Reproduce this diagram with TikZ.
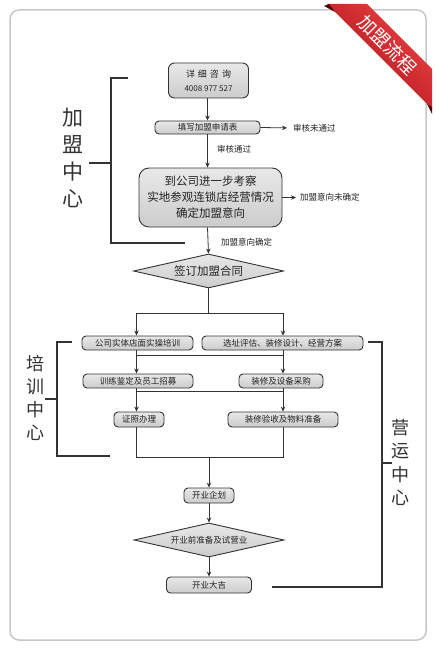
\documentclass[tikz,border=0pt]{standalone}
\usepackage{fontspec}
\setmainfont{Noto Sans CJK SC}
\usetikzlibrary{arrows.meta,shapes.geometric}
\definecolor{ln}{HTML}{333333}
\definecolor{frm}{HTML}{C8C8C8}
\definecolor{bxtop}{HTML}{E8E8E8}
\definecolor{bxbot}{HTML}{CCCCCC}
\definecolor{rib1}{HTML}{EC4346}
\definecolor{rib2}{HTML}{A50C12}
\definecolor{rib3}{HTML}{4A0A0C}
\definecolor{txt}{HTML}{222222}
\tikzset{
  box/.style={draw=ln, line width=0.9pt, rounded corners=4pt, top color=bxtop, bottom color=bxbot,
    inner sep=0pt, align=center, text=txt, font=\fontsize{8.5}{10}\selectfont},
  dia/.style={diamond, draw=ln, line width=0.9pt, top color=bxtop, bottom color=bxbot, aspect=4.41,
    inner sep=0pt, minimum width=150pt, minimum height=34pt, text=txt},
  lbl/.style={inner sep=0pt, text=txt, font=\fontsize{8.5}{10}\selectfont},
  vlab/.style={inner sep=0pt, align=center, text=ln},
  conn/.style={draw=ln, line width=0.8pt},
  arr/.style={draw=ln, line width=0.8pt, -{Stealth[length=5pt,width=4.5pt]}},
  brk/.style={draw=ln, line width=1.2pt}
}
\begin{document}
\begin{tikzpicture}[x=1pt,y=-1pt]
\useasboundingbox (0,0) rectangle (436,650);
\fill[white] (0,0) rectangle (436,650);
% frame
\draw[frm, line width=1.5pt, rounded corners=9pt] (10,10) rectangle (426,640);
% ribbon
\shade[top color=rib1, bottom color=rib2, shading angle=-45] (327,4) -- (367,4) -- (432,69) -- (432,109) -- cycle;
\fill[rib3] (324,6) -- (329,4) -- (335,12) -- cycle;
\fill[rib3] (427,104) -- (432,107) -- (432,114) -- cycle;
\node[rotate=-45, inner sep=0pt, text=white, font=\fontsize{18.5}{18.5}\selectfont] (rt) at (387.5,45) {加盟流程};

% main flow
\node[box, rounded corners=6pt, minimum width=80pt, minimum height=35pt] (zx) at (208.5,80.5)
  {\fontsize{9}{10}\selectfont 详\hspace{3pt}细\hspace{3pt}咨\hspace{3pt}询\\[4pt]{\fontsize{8}{10}\selectfont 4008 977 527}};
\node[box, minimum width=105pt, minimum height=13pt] (sq) at (207.5,127.5) {填写加盟申请表};
\node[box, rounded corners=10pt, minimum width=143pt, minimum height=59pt, font=\fontsize{11.5}{16}\selectfont] (kc) at (210.5,197.5)
  {到公司进一步考察\\实地参观连锁店经营情况\\确定加盟意向};
\node[dia, font=\fontsize{11.5}{13}\selectfont] (ht) at (208.5,271) {签订加盟合同};

\node[box, minimum width=111pt, minimum height=14pt] (b1) at (137.5,343) {公司实体店面实操培训};
\node[box, minimum width=161pt, minimum height=14pt] (b2) at (282.5,343) {选址评估、装修设计、经营方案};
\node[box, minimum width=110pt, minimum height=14pt] (b3) at (138,381) {训练鉴定及员工招募};
\node[box, minimum width=84pt, minimum height=14pt] (b4) at (281,381) {装修及设备采购};
\node[box, minimum width=50pt, minimum height=15pt] (b5) at (139,419.5) {证照办理};
\node[box, minimum width=110pt, minimum height=15pt] (b6) at (283,419.5) {装修验收及物料准备};
\node[box, minimum width=50pt, minimum height=15pt] (b7) at (209,495.5) {开业企划};
\node[dia, font=\fontsize{8.5}{10}\selectfont] (d2) at (209,540) {开业前准备及试营业};
\node[box, minimum width=85pt, minimum height=16pt] (b8) at (209,585) {开业大吉};

% side labels
\node[lbl, anchor=west] (l1) at (293,128) {审核未通过};
\node[lbl, anchor=west] (l2) at (217,149) {审核通过};
\node[lbl, anchor=west] (l3) at (300,197.5) {加盟意向未确定};
\node[lbl, anchor=west] (l4) at (221,242) {加盟意向确定};

% connectors top
\draw[arr] (zx.south -| sq.south) -- (sq.north);
\draw[arr] (sq.south) -- (kc.north -| sq.south);
\draw[arr] (kc.south -| sq.south) -- (ht.north);
\draw[arr, shorten >=6pt] (sq.east) -- (l1.west);
\draw[arr, shorten >=4pt] (kc.east) -- (l3.west);

% column coordinates
\coordinate (cL) at (136.5,0);
\coordinate (cR) at (283,0);
\coordinate (j1) at (208.5,313);
\coordinate (j2) at (208.5,355);
\coordinate (j3) at (208.5,391);
\coordinate (j4) at (209,457);

\draw[conn] (ht.south) -- (j1);
\draw[arr] (j1) -| (b1.north -| cL);
\draw[arr] (j1) -| (b2.north -| cR);

\draw[conn] (b1.south -| cL) -- (j2 -| cL) -- (j2 -| cR) -- (b2.south -| cR);
\draw[arr] (j2 -| cL) -- (b3.north -| cL);
\draw[arr] (j2 -| cR) -- (b4.north -| cR);

\draw[conn] (b3.south -| cL) -- (j3 -| cL) -- (j3 -| cR) -- (b4.south -| cR);
\draw[arr] (j3 -| cL) -- (b5.north -| cL);
\draw[arr] (j3 -| cR) -- (b6.north -| cR);

\draw[conn] (b5.south -| cL) -- (j4 -| cL) -- (j4 -| cR) -- (b6.south -| cR);
\draw[arr] (j4) -- (b7.north);
\draw[arr] (b7.south) -- (d2.north);
\draw[arr] (d2.south) -- (b8.north);

% brackets and centre labels
\node[vlab, font=\fontsize{21}{26.7}\selectfont] (jm) at (73,158) {加\\盟\\中\\心};
\node[vlab, font=\fontsize{18}{23}\selectfont] (px) at (35,397.5) {培\\训\\中\\心};
\node[vlab, font=\fontsize{18}{23.5}\selectfont] (yy) at (400,462.5) {营\\运\\中\\心};

\draw[brk] (128,78) -- (111,78) -- (111,243) -- (185,243);
\draw[brk] (111,163) -- (89,163);
\draw[brk] (72,342) -- (57,342) -- (57,456) -- (110,456);
\draw[brk] (57,399) -- (45,399);
\draw[brk] (368,342) -- (382,342) -- (382,587) -- (272,587);
\draw[brk] (382,463) -- (392,463);
\end{tikzpicture}
\end{document}
